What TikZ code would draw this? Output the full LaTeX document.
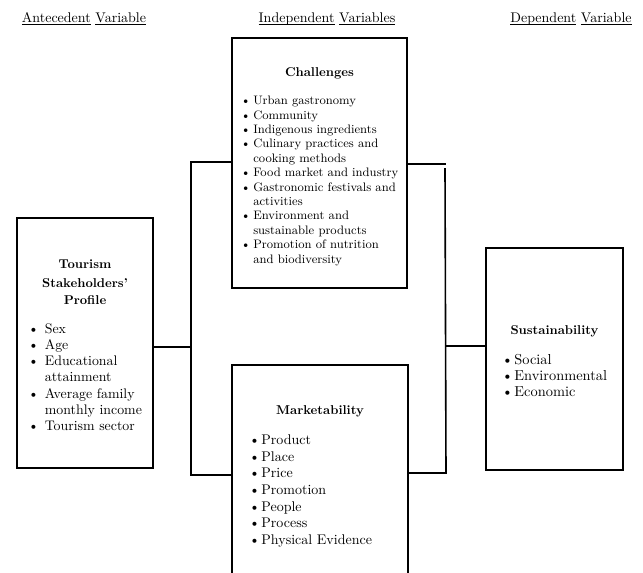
\documentclass[tikz,border=0pt]{standalone}
\usepackage{tikz}
\usetikzlibrary{positioning, calc}

\newcommand{\uword}[1]{\underline{\raisebox{0pt}[\height][0pt]{#1}}}
\newcommand{\itm}{\textbullet &}
\newcommand{\ttl}[1]{{\fontsize{9.6}{14}\selectfont\bfseries #1}}
\newcommand{\lift}{\rule{0pt}{13.5pt}}

\tikzset{
  varbox/.style={draw, line width=1.2pt, align=center, inner sep=0pt},
  varhead/.style={font=\fontsize{10.5}{12}\selectfont},
  link/.style={line width=1.2pt},
}

\begin{document}
\begin{tikzpicture}[x=0.75pt, y=-0.75pt]
  \path[use as bounding box] (0,0) rectangle (643,572);
  \clip (0,0) rectangle (643,572);

  % column headings
  \node[varhead] (hant) at (84,19) {\uword{Antecedent} \uword{Variable}};
  \node[varhead] (hind) at (327,19) {\uword{Independent} \uword{Variables}};
  \node[varhead] (hdep) at (571,19) {\uword{Dependent} \uword{Variable}};

  % antecedent
  \node[varbox, minimum width=102pt, minimum height=187.5pt,
        font=\fontsize{10.4}{12.2}\selectfont] (prof) at (85,343) {
    \lift\ttl{Tourism}\\[2pt]
    \ttl{Stakeholders'}\\[0.5pt]
    \ttl{Profile}\\[9.5pt]
    \begin{tabular}[t]{@{}l@{\hspace{4.5pt}}l@{}}
      \itm Sex\\
      \itm Age\\
      \itm Educational\\
      & attainment\\
      \itm Average family\\
      & monthly income\\
      \itm Tourism sector
    \end{tabular}
  };

  % independent
  \node[varbox, minimum width=131.25pt, minimum height=187.5pt,
        font=\fontsize{9.2}{10.8}\selectfont] (chal) at (319.5,163) {
    \lift\ttl{Challenges}\\[10.2pt]
    \begin{tabular}[t]{@{}l@{\hspace{2pt}}l@{}}
      \itm Urban gastronomy\\
      \itm Community\\
      \itm Indigenous ingredients\\
      \itm Culinary practices and\\
      & cooking methods\\
      \itm Food market and industry\\
      \itm Gastronomic festivals and\\
      & activities\\
      \itm Environment and\\
      & sustainable products\\
      \itm Promotion of nutrition\\
      & and biodiversity
    \end{tabular}
  };
  \node[varbox, minimum width=132pt, minimum height=162pt,
        font=\fontsize{10.5}{12.5}\selectfont] (mkt) at (320,473) {
    \lift\ttl{Marketability}\\[10pt]
    \begin{tabular}[t]{@{}l@{\hspace{1pt}}p{97pt}@{}}
      \itm Product\\
      \itm Place\\
      \itm Price\\
      \itm Promotion\\
      \itm People\\
      \itm Process\\
      \itm Physical Evidence
    \end{tabular}
  };

  % dependent
  \node[varbox, minimum width=102.75pt, minimum height=166.5pt,
        font=\fontsize{10.8}{11.8}\selectfont] (sus) at (554.5,359) {
    \lift\ttl{Sustainability}\\[10.7pt]
    \begin{tabular}[t]{@{}l@{\hspace{1pt}}l@{}}
      \itm Social\\
      \itm Environmental\\
      \itm Economic
    \end{tabular}
  };

  % brackets
  \coordinate (ljoin) at (191,347);
  \coordinate (ltop) at (191,162);
  \coordinate (lbot) at (191,475);
  \coordinate (rtop) at (446,164);
  \coordinate (rtopv) at (445,168);
  \coordinate (rjoin) at (446,346);
  \coordinate (rbot) at (446,473);

  \draw[link] (prof.east |- ljoin) -- (ljoin);
  \draw[link] (chal.west |- ltop) -- (ltop) -- (lbot) -- (mkt.west |- lbot);
  \draw[link] (chal.east |- rtop) -- (rtop);
  \draw[link] (rtopv) -- (rbot) -- (mkt.east |- rbot);
  \draw[link] (rjoin) -- (sus.west |- rjoin);
\end{tikzpicture}
\end{document}
